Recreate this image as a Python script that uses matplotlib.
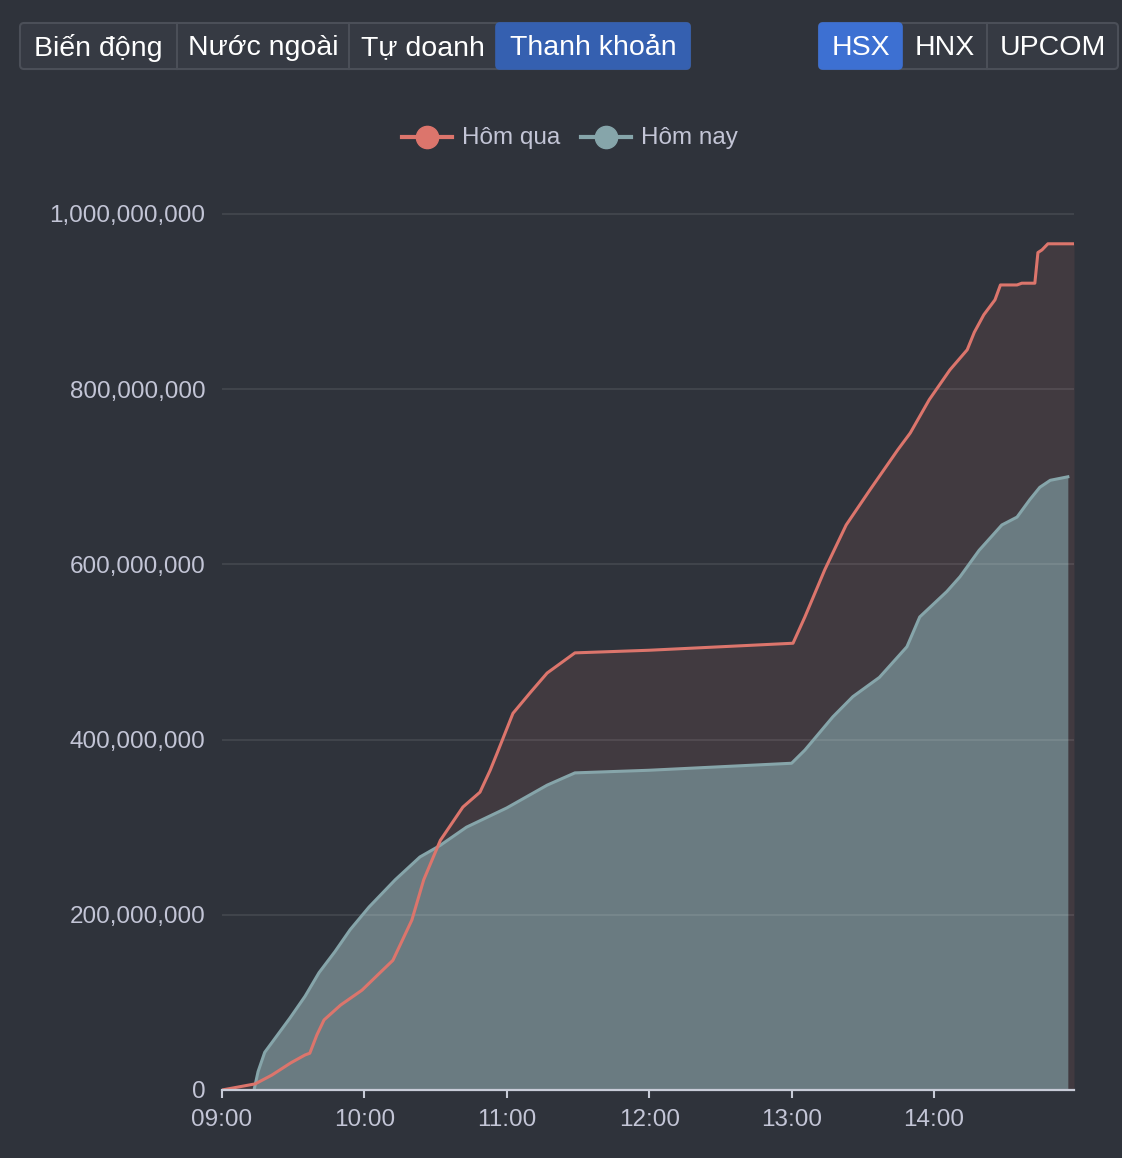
import matplotlib
matplotlib.use("Agg")
import matplotlib.pyplot as plt
from matplotlib.patches import FancyBboxPatch
from matplotlib.ticker import FuncFormatter

# minutes after 09:00, value in millions
yday_min = [0, 14, 21, 29, 35, 37, 40, 43, 50, 59, 67, 72, 76, 80, 85, 92, 101.5, 108.7, 113, 116,
            122.6, 130, 137, 148.7, 180, 240.6, 245.6, 254, 263, 273, 284.8, 290, 298, 306.7, 314,
            317, 321, 325.7, 328, 335, 337, 342.5, 343.8, 345.5, 348, 359]
yday_val = [0, 7, 17, 31, 40, 42, 63, 80, 97, 114, 135, 148, 171, 194, 240, 285, 323, 340, 365, 385,
            430, 454, 476, 499, 502, 510, 540, 594, 645, 685, 731, 750, 788, 822, 845,
            865, 885, 902, 919, 919, 921, 921, 956, 959, 966, 966]

today_min = [13.5, 15.2, 18, 21, 28.6, 35, 40.9, 47.6, 54, 62, 73, 83.4, 91.8, 103, 120, 137, 148.7,
             180, 240, 245.6, 257.4, 265.8, 277, 288.6, 294, 305.4, 311, 319, 328.6, 335, 340.4,
             344.6, 349, 356.4]
today_val = [0, 21, 43, 54, 82, 107, 134, 158, 183, 209, 240, 266, 279, 300, 322, 348, 362,
             365, 373, 388, 426, 449, 471, 506, 540, 569, 586, 616, 645, 654, 674,
             688, 696, 700]

hour_ticks = [9, 10, 11, 12, 13, 14]
hour_labels = ["09:00", "10:00", "11:00", "12:00", "13:00", "14:00"]
y_ticks = [0, 200e6, 400e6, 600e6, 800e6, 1000e6]

tabs_left = ["Biến động", "Nước ngoài", "Tự doanh", "Thanh khoản"]
tabs_right = ["HSX", "HNX", "UPCOM"]

bg = "#2f333b"
red = "#dc756c"
teal = "#86a5aa"
txt = "#c3c5d6"

plt.rcParams["font.family"] = ["Liberation Sans", "DejaVu Sans"]

W, H = 1122, 1158
fig = plt.figure(figsize=(W / 100, H / 100), dpi=100, facecolor=bg)

# plot area in pixels
left, right, bottom, top = 222, 1074, 1090, 200
ax = fig.add_axes([left / W, (H - bottom) / H, (right - left) / W, (bottom - top) / H])
ax.set_facecolor(bg)

xr = [9 + m / 60 for m in yday_min]
yr = [v * 1e6 for v in yday_val]
xt = [9 + m / 60 for m in today_min]
yt = [v * 1e6 for v in today_val]

ax.fill_between(xr, yr, 0, color="#413a40", lw=0, zorder=1)
ax.fill_between(xt, yt, 0, color="#6a7b81", lw=0, zorder=2)
for y in y_ticks[1:]:
    ax.axhline(y, color="white", alpha=0.1, lw=1.2, zorder=3)
ax.plot(xt, yt, color=teal, lw=2.2, zorder=4, solid_joinstyle="round")
ax.plot(xr, yr, color=red, lw=2.2, zorder=5, solid_joinstyle="round")

ax.set_xlim(9, 9 + 359 / 60)
ax.set_ylim(0, (bottom - top) / 876 * 1e9)
ax.set_xticks(hour_ticks)
ax.set_xticklabels(hour_labels)
ax.set_yticks(y_ticks)
ax.yaxis.set_major_formatter(FuncFormatter(lambda v, p: f"{int(round(v)):,}"))
ax.tick_params(axis="x", colors="#c8ccd8", labelcolor=txt, labelsize=17.5, length=6, width=1.5, pad=8)
ax.tick_params(axis="y", length=0, labelcolor=txt, labelsize=17.5, pad=12)
for s in ["top", "right", "left"]:
    ax.spines[s].set_visible(False)
ax.spines["bottom"].set_color("#c8ccd8")
ax.spines["bottom"].set_linewidth(1.6)
ax.spines["bottom"].set_zorder(6)

# overlay in pixel coordinates for tabs and legend
ov = fig.add_axes([0, 0, 1, 1])
ov.set_xlim(0, W)
ov.set_ylim(H, 0)
ov.axis("off")
ov.patch.set_alpha(0)


def tab_group(x0, x1, seps, labels, active, active_color):
    y0, y1 = 23, 69
    ov.add_patch(FancyBboxPatch((x0, y0), x1 - x0, y1 - y0, boxstyle="round,pad=0,rounding_size=4",
                                fc="#363a43", ec="#4b4f58", lw=1.5))
    edges = [x0] + seps + [x1]
    for i, lab in enumerate(labels):
        a, b = edges[i], edges[i + 1]
        if i == active:
            ov.add_patch(FancyBboxPatch((a, y0), b - a, y1 - y0, boxstyle="round,pad=0,rounding_size=4",
                                        fc=active_color, ec=active_color, lw=1.2))
        elif i > 0 and i - 1 != active:
            ov.plot([a, a], [y0, y1], color="#4b4f58", lw=1.5)
        ov.text((a + b) / 2, 48, lab, color="white", fontsize=20.5, ha="center", va="center")


tab_group(20, 690, [177, 349, 496], tabs_left, 3, "#3560b0")
tab_group(819, 1118, [902, 987], tabs_right, 0, "#3d70d2")

# legend
for (x_c, lab, col) in [(427, "Hôm qua", red), (606, "Hôm nay", teal)]:
    ov.plot([x_c - 25, x_c + 25], [137, 137], color=col, lw=3)
    ov.plot([x_c], [137], "o", ms=16, color=col)
    ov.text(x_c + 35, 138, lab, color=txt, fontsize=17.5, ha="left", va="center")

fig.savefig("out.png", dpi=100, facecolor=bg)
